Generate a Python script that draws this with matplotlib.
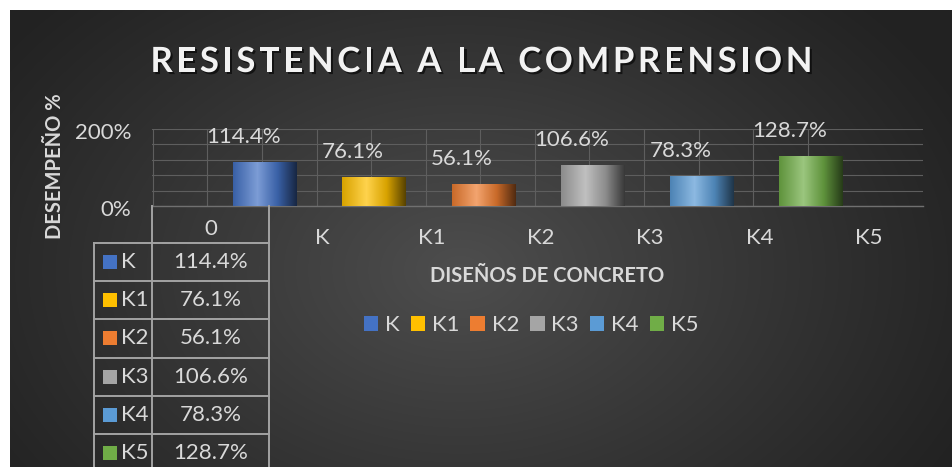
import numpy as np
import matplotlib.pyplot as plt
from matplotlib import font_manager, ft2font, patheffects
from matplotlib.colors import LinearSegmentedColormap, to_rgb
from matplotlib.patches import Patch, Rectangle
from matplotlib.transforms import ScaledTranslation

series = ["K", "K1", "K2", "K3", "K4", "K5"]
valores = [114.4, 76.1, 56.1, 106.6, 78.3, 128.7]
colores = ["#4472C4", "#FFC000", "#ED7D31", "#A5A5A5", "#5B9BD5", "#70AD47"]
cabecera = "0"
y_ticks = [0, 200]
y_grid = [40, 80, 120, 160]
titulo = "RESISTENCIA A LA COMPRENSION"
titulo_x = "DISEÑOS DE CONCRETO"
titulo_y = "DESEMPEÑO %"

W, H = 953, 467
FONT = "Lato"
FS = 16
TXT = "#d9d9d9"
GRID = "#5e5e5e"
TABLA = "#a3a3a3"


def fx(x):
    return x / W


def fy(y):
    return 1 - y / H


fig = plt.figure(figsize=(W / 100, H / 100), dpi=100)
fig.patch.set_facecolor("white")

# fondo oscuro con degradado radial
bg = fig.add_axes([fx(10), 0, (W - 10) / W, (H - 10) / H], zorder=-10)
yy, xx = np.mgrid[10:H, 10:W]
d = np.sqrt(((xx - 460) / 560.0) ** 2 + ((yy - 270) / 390.0) ** 2)
g = 0.135 + 0.17 * (1 - np.clip(d, 0, 1)) ** 1.1
bg.imshow(np.dstack([g, g, g]), extent=(0, 1, 0, 1), aspect="auto")
bg.axis("off")

# area de grafico
ax = fig.add_axes([fx(152), fy(206), 771 / W, 77 / H])
ax.set_facecolor("none")
xs = np.arange(len(series))
ancho = 0.58

for xv in np.arange(-1, len(series) - 0.99, 0.5) - 0.027:
    ax.axvline(xv, color=GRID, lw=0.8, zorder=1)
ax.set_yticks(y_ticks, [f"{t}%" for t in y_ticks])
ax.set_yticks(y_grid, minor=True)
ax.grid(axis="y", which="both", color=GRID, lw=0.8, zorder=1)
ax.set_axisbelow(True)

bars = ax.bar(xs, valores, width=ancho, color=colores, zorder=3)
grad = np.linspace(0, 1, 64)[None, :]
for b, c in zip(bars, colores):
    c = np.array(to_rgb(c))
    luz = c + (1 - c) * 0.3
    cmap = LinearSegmentedColormap.from_list(
        "bar", [(0, c * 0.85), (0.38, luz), (0.7, c * 0.85), (1, c * 0.35)])
    x0 = b.get_x()
    im = ax.imshow(grad, extent=(x0, x0 + b.get_width(), 0, b.get_height()),
                   aspect="auto", cmap=cmap, zorder=4, interpolation="bilinear")
    im.set_clip_path(b)

for xv, v in zip(xs, valores):
    ax.annotate(f"{v:.1f}%", (xv, v), xytext=(-21, 25), textcoords="offset pixels",
                ha="center", va="center", color=TXT, fontsize=FS, family=FONT,
                annotation_clip=False, zorder=5)

ax.set_xlim(-1.035, 6.03)
ax.set_ylim(0, 200)
ax.set_xticks(xs + 0.53, series)
for s in ["top", "right", "left"]:
    ax.spines[s].set_visible(False)
ax.spines["bottom"].set_color("#707070")
ax.spines["bottom"].set_linewidth(1)
ax.tick_params(axis="both", which="both", length=0, labelcolor=TXT, labelsize=FS)
ax.tick_params(axis="x", pad=16)
ax.tick_params(axis="y", pad=15)
for lbl in ax.get_xticklabels() + ax.get_yticklabels():
    lbl.set_family(FONT)
for lbl in ax.get_yticklabels():
    lbl.set_transform(lbl.get_transform() + ScaledTranslation(0, -0.02, fig.dpi_scale_trans))

# titulo con espaciado entre letras
fp = font_manager.FontProperties(family=FONT, weight="bold")
ft = ft2font.FT2Font(font_manager.findfont(fp))
TITLE_PT = 25
ft.set_size(TITLE_PT, 100)
adv = [ft.load_char(ord(ch)).linearHoriAdvance / 65536 for ch in titulo]
sp = (662 - sum(adv)) / (len(titulo) - 1)
cur = 150.5
sombra = [patheffects.withSimplePatchShadow(offset=(1.5, -1.5), shadow_rgbFace="black", alpha=0.6)]
for ch, a in zip(titulo, adv):
    if ch != " ":
        fig.text(fx(cur + a / 2), fy(72), ch, ha="center", va="baseline", color="#f2f2f2",
                 fontsize=TITLE_PT, family=FONT, fontweight="bold", path_effects=sombra)
    cur += a + sp

fig.text(fx(55), fy(166), titulo_y, rotation=90, ha="center", va="center", color=TXT,
         fontsize=14.5, family=FONT, fontweight="bold")
fig.text(fx(547), fy(276), titulo_x, ha="center", va="center", color=TXT,
         fontsize=14.5, family=FONT, fontweight="bold")

# leyenda
handles = [Patch(facecolor=c, edgecolor="none") for c in colores]
leg = fig.legend(handles, series, loc="center", bbox_to_anchor=(fx(531), fy(325)), ncol=6,
                 frameon=False, handlelength=0.65, handleheight=0.65, handletextpad=0.3,
                 columnspacing=0.5, prop={"family": FONT, "size": FS})
for t in leg.get_texts():
    t.set_color(TXT)

# tabla de datos
ov = fig.add_axes([0, 0, 1, 1], zorder=2)
ov.set_xlim(0, W)
ov.set_ylim(H, 0)
ov.axis("off")
ov.patch.set_alpha(0)
top, fila = 242.7, 38.3
xa, xb, xc = 94, 152.5, 269.5
ov.plot([xb, xb], [206, H], color=TABLA, lw=1.4)
ov.plot([xc, xc], [206, H], color=TABLA, lw=1.4)
ov.plot([xa, xa], [top, H], color=TABLA, lw=1.4)
for k in range(len(series) + 1):
    ov.plot([xa, xc], [top + k * fila] * 2, color=TABLA, lw=1.4, clip_on=True)
ov.text((xb + xc) / 2, 229, cabecera, ha="center", va="center", color=TXT, fontsize=FS, family=FONT)
for k, (s, v, c) in enumerate(zip(series, valores, colores)):
    yc = top + (k + 0.5) * fila
    ov.add_patch(Rectangle((103, yc - 7), 14, 14, facecolor=c, edgecolor="none"))
    ov.text(121, yc, s, ha="left", va="center", color=TXT, fontsize=FS, family=FONT)
    ov.text((xb + xc) / 2, yc, f"{v:.1f}%", ha="center", va="center", color=TXT,
            fontsize=FS, family=FONT)

fig.savefig("out.png", dpi=100, facecolor=fig.get_facecolor())
